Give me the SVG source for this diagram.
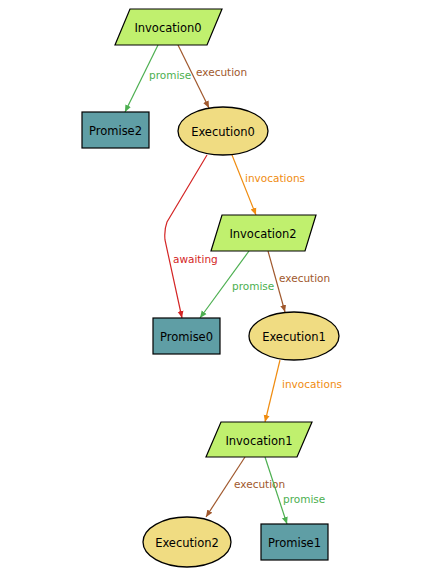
<svg xmlns="http://www.w3.org/2000/svg" width="437" height="583" viewBox="0 0 437 583">
<style>
.inv{fill:#c0f06e;stroke:#000;stroke-width:1.2}
.pro{fill:#5f9ea5;stroke:#000;stroke-width:1.2}
.exe{fill:#f0dc82;stroke:#000;stroke-width:1.3}
.nt{font-family:"DejaVu Sans",sans-serif;font-size:11.5px;fill:#000;text-anchor:middle}
.lt{font-family:"DejaVu Sans",sans-serif;font-size:10.5px}
.e{fill:none;stroke-width:1.2}
.g{stroke:#4caf50}.b{stroke:#a0582d}.o{stroke:#f08c10}.r{stroke:#d42626}
</style>
<defs>
<marker id="ag" markerWidth="8" markerHeight="8" refX="7" refY="4" orient="auto" markerUnits="userSpaceOnUse"><path d="M0,1 L7,4 L0,7 z" fill="#4caf50"/></marker>
<marker id="ab" markerWidth="8" markerHeight="8" refX="7" refY="4" orient="auto" markerUnits="userSpaceOnUse"><path d="M0,1 L7,4 L0,7 z" fill="#a0582d"/></marker>
<marker id="ao" markerWidth="8" markerHeight="8" refX="7" refY="4" orient="auto" markerUnits="userSpaceOnUse"><path d="M0,1 L7,4 L0,7 z" fill="#f08c10"/></marker>
<marker id="ar" markerWidth="8" markerHeight="8" refX="7" refY="4" orient="auto" markerUnits="userSpaceOnUse"><path d="M0,1 L7,4 L0,7 z" fill="#d42626"/></marker>
</defs>
<g id="connectors">
<path class="e g" d="M158,45 L125,112" marker-end="url(#ag)"/>
<text class="lt" x="149" y="79" fill="#4caf50">promise</text>
<path class="e b" d="M178,45 L209,108" marker-end="url(#ab)"/>
<text class="lt" x="196" y="76" fill="#a0582d">execution</text>
<path class="e r" d="M207,155 L167,222 Q164,230 165,240 L182,318" marker-end="url(#ar)"/>
<text class="lt" x="173" y="263" fill="#d42626">awaiting</text>
<path class="e o" d="M232,155 L256,215" marker-end="url(#ao)"/>
<text class="lt" x="245" y="182" fill="#f08c10">invocations</text>
<path class="e g" d="M249,251 L200,318" marker-end="url(#ag)"/>
<text class="lt" x="232" y="290" fill="#4caf50">promise</text>
<path class="e b" d="M268,251 L285,312" marker-end="url(#ab)"/>
<text class="lt" x="279" y="282" fill="#a0582d">execution</text>
<path class="e o" d="M280,360 L265,422" marker-end="url(#ao)"/>
<text class="lt" x="282" y="388" fill="#f08c10">invocations</text>
<path class="e b" d="M245,457 L206,517" marker-end="url(#ab)"/>
<text class="lt" x="234" y="488" fill="#a0582d">execution</text>
<path class="e g" d="M265,457 L287,524" marker-end="url(#ag)"/>
<text class="lt" x="283" y="503" fill="#4caf50">promise</text>
</g>
<g id="Invocation0"><path class="inv" d="M130,9 L222,9 L207,45 L115,45 z"/><text class="nt" x="168" y="31.5">Invocation0</text></g>
<g id="Promise2"><rect class="pro" x="82" y="112" width="67" height="36"/><text class="nt" x="115.5" y="134.5">Promise2</text></g>
<g id="Execution0"><ellipse class="exe" cx="223" cy="131" rx="45" ry="24"/><text class="nt" x="223" y="135.5">Execution0</text></g>
<g id="Invocation2"><path class="inv" d="M222,215 L316,215 L305,251 L211,251 z"/><text class="nt" x="263" y="237.5">Invocation2</text></g>
<g id="Promise0"><rect class="pro" x="153" y="318" width="67" height="36"/><text class="nt" x="186.5" y="340.5">Promise0</text></g>
<g id="Execution1"><ellipse class="exe" cx="294" cy="336" rx="45" ry="24"/><text class="nt" x="294" y="340.5">Execution1</text></g>
<g id="Invocation1"><path class="inv" d="M221,422 L312,422 L297,457 L206,457 z"/><text class="nt" x="259" y="444.5">Invocation1</text></g>
<g id="Execution2"><ellipse class="exe" cx="187" cy="542" rx="44" ry="25"/><text class="nt" x="187" y="546.5">Execution2</text></g>
<g id="Promise1"><rect class="pro" x="261" y="524" width="67" height="36"/><text class="nt" x="294.5" y="546.5">Promise1</text></g>
</svg>
